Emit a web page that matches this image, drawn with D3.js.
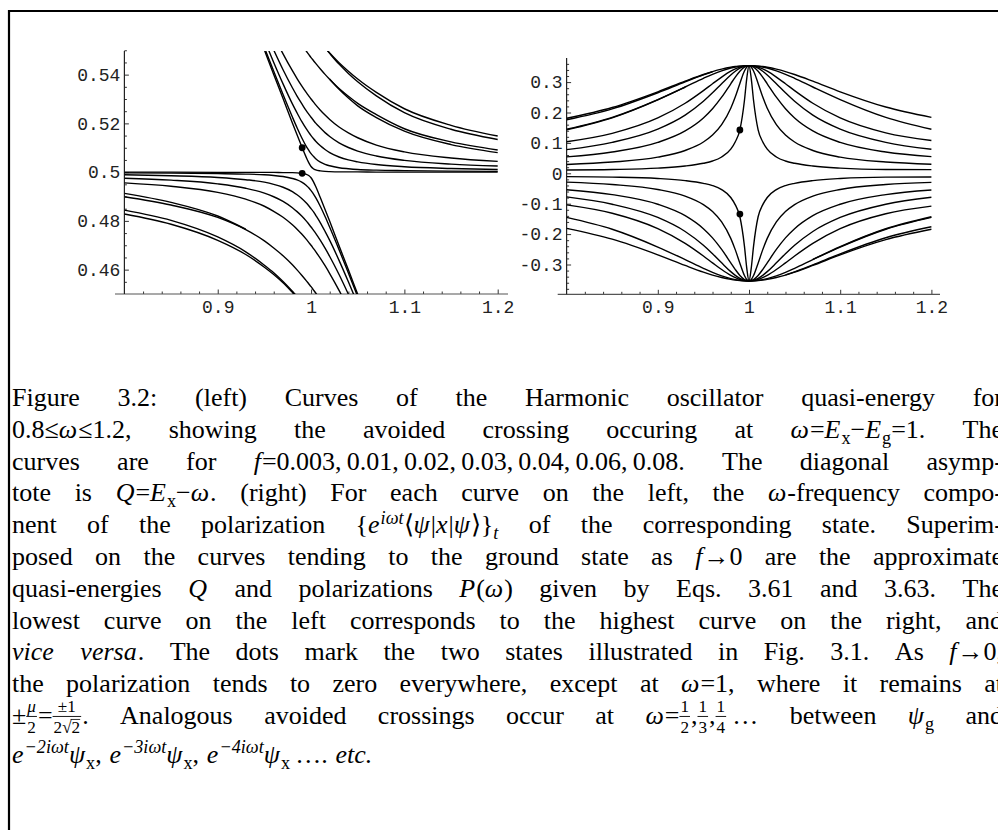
<!DOCTYPE html>
<html>
<head>
<meta charset="utf-8">
<script src="https://cdnjs.cloudflare.com/ajax/libs/d3/7.8.5/d3.min.js"></script>
<style>
  body { margin: 0; background: #fff; }
  svg { display: block; }
</style>
</head>
<body>
<svg id="fig" width="998" height="830"></svg>
<script>
// ---------- data ----------
const none = n => Array(n).fill(null)

// frequency grid shared by every curve
const omega = [0.8, 0.85, 0.9, 0.93, 0.95, 0.96, 0.97, 0.98, 0.985, 0.99, 0.995, 0.9975, 1.0,
               1.0025, 1.005, 1.01, 1.015, 1.02, 1.03, 1.04, 1.05, 1.07, 1.1, 1.15, 1.2]

// left: quasi-energy, branch below the crossing (f = 0.003 ... 0.08)
const qLow003 = [0.5000, 0.5000, 0.4999, 0.4999, 0.4999, 0.4999, 0.4998, 0.4998, 0.4997, 0.4995, 0.4991, 0.4986, 0.4977, 0.4961, 0.4941, 0.4895, 0.4847, 0.4798, 0.4698, 0.4599, 0.4499, 0.4300, null, null, null]
const qLow01  = [0.4997, 0.4996, 0.4994, 0.4992, 0.4989, 0.4986, 0.4982, 0.4974, 0.4968, 0.4959, 0.4945, 0.4936, 0.4924, 0.4911, 0.4895, 0.4859, 0.4818, 0.4774, 0.4682, 0.4586, 0.4489, 0.4290, null, null, null]
const qLow02  = [0.4989, 0.4985, 0.4978, 0.4969, 0.4959, 0.4950, 0.4938, 0.4920, 0.4907, 0.4892, 0.4873, 0.4862, 0.4850, 0.4838, 0.4823, 0.4792, 0.4757, 0.4720, 0.4638, 0.4550, 0.4459, null, null, null, null]
const qLow03  = [0.4975, 0.4967, 0.4952, 0.4934, 0.4914, 0.4899, 0.4880, 0.4854, 0.4838, 0.4820, 0.4799, 0.4787, 0.4775, 0.4762, 0.4749, 0.4720, 0.4688, 0.4654, 0.4580, 0.4499, 0.4414, null, null, null, null]
const qLow04  = [0.4956, 0.4942, 0.4917, 0.4889, 0.4860, 0.4839, 0.4815, 0.4784, 0.4766, 0.4746, 0.4724, 0.4712, 0.4700, 0.4687, 0.4674, 0.4646, 0.4616, 0.4584, 0.4515, 0.4439, null, null, null, null, null]
const qLow06  = [0.4899, 0.4865, 0.4814, 0.4764, 0.4718, 0.4689, 0.4657, 0.4620, 0.4599, 0.4577, 0.4554, 0.4542, 0.4530, 0.4517, 0.4504, 0.4477, ...none(9)]
const qLow08  = [0.4844, 0.4802, 0.4734, 0.4673, 0.4618, 0.4587, 0.4551, 0.4511, 0.4490, 0.4468, ...none(15)]

// left: quasi-energy, branch above the crossing
const qHigh003 = [null, null, null, 0.5701, 0.5501, 0.5401, 0.5302, 0.5202, 0.5153, 0.5105, 0.5059, 0.5039, 0.5023, 0.5014, 0.5009, 0.5005, 0.5003, 0.5002, 0.5001, 0.5001, 0.5001, 0.5000, 0.5000, 0.5000, 0.5000]
const qHigh01  = [null, null, null, 0.5708, 0.5511, 0.5414, 0.5318, 0.5226, 0.5182, 0.5141, 0.5105, 0.5090, 0.5076, 0.5065, 0.5055, 0.5041, 0.5032, 0.5026, 0.5018, 0.5014, 0.5011, 0.5008, 0.5006, 0.5004, 0.5003]
const qHigh02  = [null, null, null, 0.5731, 0.5542, 0.5450, 0.5362, 0.5280, 0.5243, 0.5208, 0.5177, 0.5163, 0.5150, 0.5138, 0.5127, 0.5108, 0.5093, 0.5080, 0.5062, 0.5050, 0.5042, 0.5031, 0.5022, 0.5015, 0.5011]
const qHigh03  = [null, null, null, 0.5766, 0.5586, 0.5501, 0.5420, 0.5346, 0.5312, 0.5281, 0.5251, 0.5238, 0.5225, 0.5213, 0.5201, 0.5181, 0.5162, 0.5146, 0.5120, 0.5101, 0.5086, 0.5066, 0.5048, 0.5033, 0.5025]
const qHigh04  = [null, null, null, null, 0.5641, 0.5561, 0.5485, 0.5416, 0.5384, 0.5354, 0.5326, 0.5313, 0.5300, 0.5288, 0.5276, 0.5254, 0.5234, 0.5216, 0.5185, 0.5161, 0.5141, 0.5111, 0.5083, 0.5058, 0.5044]
const qHigh06  = [...none(6), 0.5643, 0.5581, 0.5551, 0.5523, 0.5496, 0.5483, 0.5470, 0.5458, 0.5446, 0.5423, 0.5401, 0.5381, 0.5343, 0.5311, 0.5282, 0.5236, 0.5178, 0.5124, 0.5091]
const qHigh08  = [...none(14), 0.5556, 0.5532, 0.5510, 0.5489, 0.5449, 0.5414, 0.5382, 0.5327, 0.5260, 0.5192, 0.5148]

// left: approximate quasi-energies (Eq. 3.61) where they separate from the exact ones
const qLowFit08  = [0.4828, 0.4786, 0.4720, 0.4662, 0.4610, 0.4580, 0.4546, 0.4507, 0.4487, ...none(16)]
const qLowFit06  = [0.4913, 0.4876, 0.4820, 0.4766, ...none(21)]
const qHighFit08 = [...none(14), 0.5556, 0.5532, 0.5510, 0.5487, 0.5443, 0.5405, 0.5371, 0.5313, 0.5244, 0.5176, 0.5134]
const qHighFit06 = [...none(17), 0.5381, 0.5340, 0.5304, 0.5272, 0.5224, 0.5168, 0.5113, 0.5080]

// right: size of the polarization (upper family; the lower family mirrors it)
const pol08  = [0.1810, 0.2166, 0.2681, 0.3031, 0.3251, 0.3347, 0.3427, 0.3488, 0.3511, 0.3527, 0.3537, 0.3539, 0.3540, 0.3539, 0.3537, 0.3527, 0.3511, 0.3488, 0.3427, 0.3347, 0.3251, 0.3031, 0.2681, 0.2180, 0.1840]
const pol06  = [0.1450, 0.1840, 0.2425, 0.2839, 0.3125, 0.3257, 0.3372, 0.3463, 0.3496, 0.3520, 0.3535, 0.3538, 0.3540, 0.3538, 0.3535, 0.3520, 0.3496, 0.3463, 0.3372, 0.3257, 0.3125, 0.2839, 0.2425, 0.1840, 0.1450]
const pol04  = [0.1040, 0.1315, 0.1821, 0.2304, 0.2720, 0.2945, 0.3166, 0.3359, 0.3435, 0.3492, 0.3528, 0.3537, 0.3540, 0.3537, 0.3528, 0.3492, 0.3435, 0.3359, 0.3166, 0.2945, 0.2720, 0.2304, 0.1821, 0.1330, 0.1080]
const pol03  = [0.0777, 0.1017, 0.1453, 0.1914, 0.2368, 0.2646, 0.2946, 0.3235, 0.3358, 0.3456, 0.3518, 0.3535, 0.3540, 0.3535, 0.3518, 0.3456, 0.3358, 0.3235, 0.2946, 0.2646, 0.2368, 0.1914, 0.1453, 0.1017, 0.0790]
const pol02  = [0.0540, 0.0700, 0.1017, 0.1394, 0.1822, 0.2124, 0.2503, 0.2945, 0.3166, 0.3359, 0.3493, 0.3528, 0.3540, 0.3528, 0.3493, 0.3359, 0.3166, 0.2945, 0.2503, 0.2124, 0.1822, 0.1394, 0.1017, 0.0700, 0.0550]
const pol01  = [0.0290, 0.0370, 0.0532, 0.0751, 0.1029, 0.1257, 0.1599, 0.2140, 0.2519, 0.2956, 0.3363, 0.3493, 0.3540, 0.3493, 0.3363, 0.2956, 0.2519, 0.2140, 0.1599, 0.1257, 0.1029, 0.0751, 0.0532, 0.0370, 0.0300]
const pol003 = [0.0110, 0.0125, 0.0170, 0.0240, 0.0330, 0.0404, 0.0537, 0.0796, 0.1040, 0.1430, 0.2394, 0.3109, 0.3540, 0.3109, 0.2394, 0.1430, 0.1040, 0.0796, 0.0537, 0.0404, 0.0330, 0.0240, 0.0170, 0.0125, 0.0120]

// right: approximate polarizations (Eq. 3.63)
const polUpFit08   = [0.1760, 0.2120, 0.2650, 0.3010, 0.3240, 0.3340, ...none(19)]
const polUpFit06   = [0.1430, 0.1825, 0.2415, 0.2835, ...none(21)]
const polDownFit08 = [...none(19), -0.3340, -0.3240, -0.3010, -0.2650, -0.2120, -0.1760]
const polDownFit06 = [...none(21), -0.2835, -0.2415, -0.1825, -0.1430]

// the two marked states
const dotsLeft  = [[0.9905, 0.5100], [0.9905, 0.4995]]
const dotsRight = [[0.99, 0.1425], [0.99, -0.134]]

// ticks
const xTicks = [0.9, 1, 1.1, 1.2]
const xTickLabels = ['0.9', '1', '1.1', '1.2']
const yTicksL = [0.46, 0.48, 0.5, 0.52, 0.54]
const yTickLabelsL = ['0.46', '0.48', '0.5', '0.52', '0.54']
const yTicksR = [-0.3, -0.2, -0.1, 0, 0.1, 0.2, 0.3]
const yTickLabelsR = ['-0.3', '-0.2', '-0.1', '0', '0.1', '0.2', '0.3']

// ---------- drawing ----------
const svg = d3.select('#fig')
svg.append('rect').attr('width', 998).attr('height', 830).attr('fill', '#fff')
svg.append('path').attr('d', 'M9,830V11H998').attr('fill', 'none')
    .attr('stroke', '#000').attr('stroke-width', 2.2)

const monoFont = "'Liberation Mono', 'Courier New', monospace"

function panel(p) {
    const g = svg.append('g')
    const x = p.x, y = p.y
    const x0 = x(0.8), yb = p.axisY

    // minor ticks
    g.append('g').attr('transform', `translate(0,${yb})`)
        .call(d3.axisBottom(x).tickValues(p.xMinor).tickFormat('').tickSize(-2.5).tickSizeOuter(0))
        .call(a => a.select('.domain').remove())
    g.append('g').attr('transform', `translate(${x0},0)`)
        .call(d3.axisLeft(y).tickValues(p.yMinor).tickFormat('').tickSize(-2.5).tickSizeOuter(0))
        .call(a => a.select('.domain').remove())

    // major ticks + labels
    g.append('g').attr('transform', `translate(0,${yb})`)
        .call(d3.axisBottom(x).tickValues(xTicks).tickFormat((d, i) => xTickLabels[i]).tickSize(-4.5).tickPadding(6))
        .call(a => a.select('.domain').remove())
        .attr('font-family', monoFont).attr('font-size', 18)
    g.append('g').attr('transform', `translate(${x0},0)`)
        .call(d3.axisLeft(y).tickValues(p.yTicks).tickFormat((d, i) => p.yLabels[i]).tickSize(-4.5).tickPadding(4))
        .call(a => a.select('.domain').remove())
        .attr('font-family', monoFont).attr('font-size', 18)
    g.selectAll('.tick line').attr('stroke', '#333')
    g.selectAll('.tick text').attr('fill', '#222')

    // axis lines
    g.append('line').attr('x1', p.axisX[0]).attr('x2', p.axisX[1]).attr('y1', yb).attr('y2', yb)
        .attr('stroke', '#555').attr('stroke-width', 1.2)
    g.append('line').attr('x1', x0).attr('x2', x0).attr('y1', yb).attr('y2', p.axisTop)
        .attr('stroke', '#222').attr('stroke-width', 1.2)

    // curves
    const clipId = p.id + '-clip'
    svg.append('clipPath').attr('id', clipId).append('rect')
        .attr('x', x0).attr('y', p.axisTop).attr('width', x(1.2) - x0 + 1).attr('height', yb - p.axisTop)
    const line = d3.line()
        .defined(d => d[1] != null)
        .x(d => x(d[0])).y(d => y(d[1]))
        .curve(d3.curveMonotoneX)
    g.append('g').attr('clip-path', `url(#${clipId})`)
        .selectAll('path').data(p.series).join('path')
        .attr('d', s => line(omega.map((w, i) => [w, s[i]])))
        .attr('fill', 'none').attr('stroke', '#000').attr('stroke-width', 1.4)

    g.selectAll('circle').data(p.dots).join('circle')
        .attr('cx', d => x(d[0])).attr('cy', d => y(d[1])).attr('r', 3.4).attr('fill', '#000')
}

const xMinor = d3.range(0.82, 1.19, 0.02).filter(v => Math.abs(v * 10 - Math.round(v * 10)) > 1e-6)

const xL = d3.scaleLinear().domain([0.8, 1.2]).range([124.4, 497.7])
const yL = d3.scaleLinear().domain([0.45, 0.55]).range([294, 50.25])
panel({
    id: 'left', x: xL, y: yL, axisY: 294, axisTop: 51, axisX: [115, 508],
    xMinor, yMinor: d3.range(0.455, 0.551, 0.005).filter(v => Math.abs(v * 50 - Math.round(v * 50)) > 1e-6),
    yTicks: yTicksL, yLabels: yTickLabelsL,
    series: [qLow003, qLow01, qLow02, qLow03, qLow04, qLow06, qLow08,
             qHigh003, qHigh01, qHigh02, qHigh03, qHigh04, qHigh06, qHigh08,
             qLowFit08, qLowFit06, qHighFit08, qHighFit06],
    dots: dotsLeft
})

const xR = d3.scaleLinear().domain([0.8, 1.2]).range([566.6, 931.4])
const yR = d3.scaleLinear().domain([-0.3, 0.3]).range([264.5, 82.1])
const polAll = [pol08, pol06, pol04, pol03, pol02, pol01, pol003]
panel({
    id: 'right', x: xR, y: yR, axisY: 294.3, axisTop: 58, axisX: [557.7, 940],
    xMinor, yMinor: d3.range(-0.38, 0.37, 0.02).filter(v => Math.abs(v * 10 - Math.round(v * 10)) > 1e-6),
    yTicks: yTicksR, yLabels: yTickLabelsR,
    series: [...polAll, ...polAll.map(s => s.map(v => v == null ? null : -v)),
             polUpFit08, polUpFit06, polDownFit08, polDownFit06],
    dots: dotsRight
})

// ---------- caption ----------
const R = t => ({ t }), I = t => ({ t, it: 1 })
const SB = (t, it) => ({ t, sub: 1, it }), SP = (t, it) => ({ t, sup: 1, it })
const FR = (n, d, nit) => ({ frac: [n, d], nit })
const words = s => s.split(' ')

const capLines = [
    words('Figure 3.2: (left) Curves of the Harmonic oscillator quasi-energy for'),
    [[R('0.8≤'), I('ω'), R('≤1.2,')], ...words('showing the avoided crossing occuring at'),
        [I('ω'), R('='), I('E'), SB('x'), R('−'), I('E'), SB('g'), R('=1.')], 'The'],
    [...words('curves are for'), [I('f'), R('=0.003,\u20090.01,\u20090.02,\u20090.03,\u20090.04,\u20090.06,\u20090.08.')],
        ...words('The diagonal asymp-')],
    [...words('tote is'), [I('Q'), R('='), I('E'), SB('x'), R('−'), I('ω'), R('.')],
        ...words('(right) For each curve on the left, the'), [I('ω'), R('-frequency')], 'compo-'],
    [...words('nent of the polarization'),
        [R('{'), I('e'), SP('iωt', 1), R('⟨'), I('ψ'), R('|'), I('x'), R('|'), I('ψ'), R('⟩}'), SB('t', 1)],
        ...words('of the corresponding state. Superim-')],
    [...words('posed on the curves tending to the ground state as'), [I('f'), R('→0')], ...words('are the approximate')],
    ['quasi-energies', [I('Q')], 'and', 'polarizations', [I('P'), R('('), I('ω'), R(')')],
        ...words('given by Eqs. 3.61 and 3.63. The')],
    words('lowest curve on the left corresponds to the highest curve on the right, and'),
    [[I('vice')], [I('versa'), R('.')], ...words('The dots mark the two states illustrated in Fig. 3.1. As'),
        [I('f'), R('→0,')]],
    [...words('the polarization tends to zero everywhere, except at'), [I('ω'), R('=1,')],
        ...words('where it remains at')],
    [[R('±'), FR('μ', '2', 1), R('='), FR('±1', '2√2'), R('.')], ...words('Analogous avoided crossings occur at'),
        [I('ω'), R('='), FR('1', '2'), R(','), FR('1', '3'), R(','), FR('1', '4'), R('\u2009…')],
        'between', [I('ψ'), SB('g')], 'and'],
    [[I('e'), SP('−2iωt', 1), I('ψ'), SB('x'), R(',')], [I('e'), SP('−3iωt', 1), I('ψ'), SB('x'), R(',')],
        [I('e'), SP('−4iωt', 1), I('ψ'), SB('x'), R('\u2009….')], [I('etc.')]]
]

const FS = 26, LX = 12, RX = 1003, BASE0 = 406, LEAD = 31.8

function layoutToken(g, tok) {
    const runs = typeof tok === 'string' ? [R(tok)] : tok
    let x = 0
    runs.forEach(r => {
        if (r.frac) {
            const s = FS * 0.66
            const n = g.append('text').attr('y', -FS * 0.46).attr('font-size', s)
                .attr('font-style', r.nit ? 'italic' : null).text(r.frac[0])
            const d = g.append('text').attr('y', FS * 0.34).attr('font-size', s).text(r.frac[1])
            const nw = n.node().getComputedTextLength(), dw = d.node().getComputedTextLength()
            const w = Math.max(nw, dw) + 2
            n.attr('x', x + (w - nw) / 2)
            d.attr('x', x + (w - dw) / 2)
            g.append('line').attr('x1', x).attr('x2', x + w).attr('y1', -FS * 0.29).attr('y2', -FS * 0.29)
                .attr('stroke', '#000').attr('stroke-width', 0.9)
            const k = r.frac[1].indexOf('√')
            if (k >= 0) {
                // overline of the square root
                const pre = d.node().getSubStringLength(0, k + 1)
                const top = FS * 0.34 - s * 0.78
                g.append('line').attr('x1', x + (w - dw) / 2 + pre - 1).attr('x2', x + (w + dw) / 2)
                    .attr('y1', top).attr('y2', top).attr('stroke', '#000').attr('stroke-width', 0.8)
            }
            x += w + 1
        } else {
            const small = r.sub || r.sup
            const t = g.append('text').attr('x', x)
                .attr('y', r.sub ? FS * 0.22 : r.sup ? -FS * 0.36 : 0)
                .attr('font-size', small ? FS * 0.7 : FS)
                .attr('font-style', r.it ? 'italic' : null)
                .text(r.t)
            x += t.node().getComputedTextLength() + (r.it && !small ? 1 : 0)
        }
    })
    return x
}

capLines.forEach((toks, li) => {
    const lineG = svg.append('g')
        .attr('font-family', "'Liberation Serif', 'Times New Roman', serif")
        .attr('font-size', FS).attr('fill', '#000')
    const items = toks.map(tok => {
        const tg = lineG.append('g')
        return { tg, w: layoutToken(tg, tok) }
    })
    const total = d3.sum(items, d => d.w)
    const last = li === capLines.length - 1
    const gap = last ? FS * 0.3 : (RX - LX - total) / (items.length - 1)
    const base = BASE0 + li * LEAD + (last ? 7 : 0)
    let cx = LX
    items.forEach(it => {
        it.tg.attr('transform', `translate(${cx},${base})`)
        cx += it.w + gap
    })
})
</script>
</body>
</html>
